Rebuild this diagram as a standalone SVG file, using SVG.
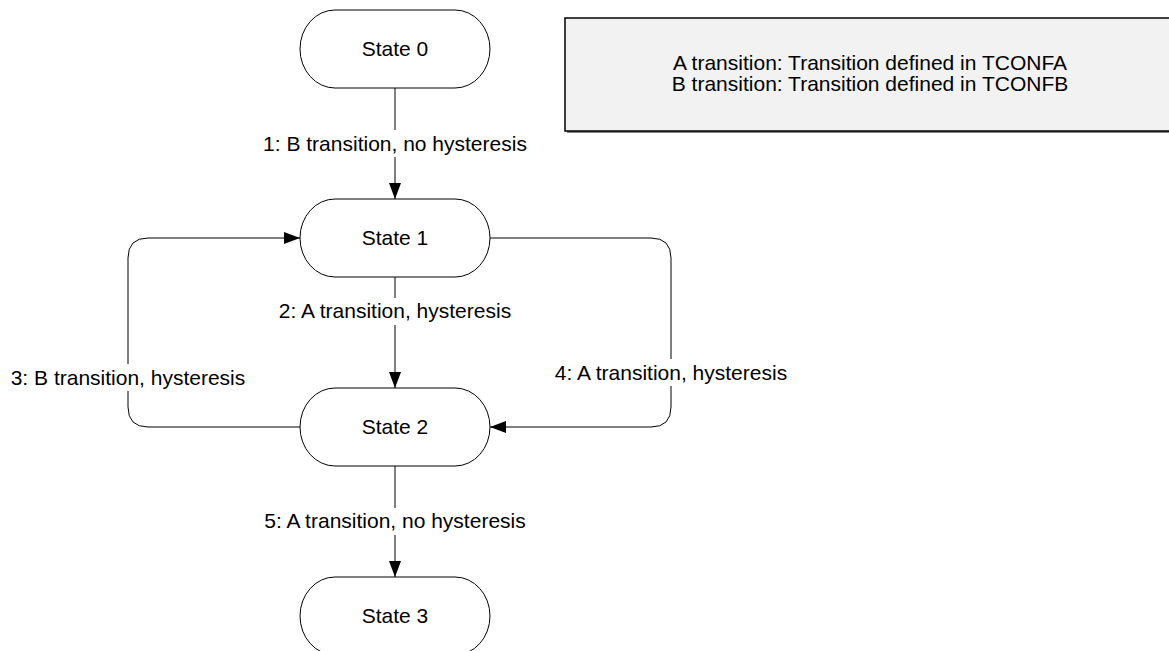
<svg xmlns="http://www.w3.org/2000/svg" width="1169" height="651" viewBox="0 0 1169 651">
<style>
.node{fill:#ffffff;stroke:#000000;stroke-width:1}
.t{font-family:"Liberation Sans",Arial,sans-serif;font-size:21px;fill:#000000;text-anchor:middle}
.edge{fill:none;stroke:#000000;stroke-width:1}
.lbg{fill:#ffffff;stroke:none}
</style>
<defs>
<marker id="arr" viewBox="0 0 16 12" refX="16" refY="6" markerWidth="16" markerHeight="12" markerUnits="userSpaceOnUse" orient="auto">
<path d="M0,0 L16,6 L0,12 Z" fill="#000000"/>
</marker>
</defs>
<rect width="1169" height="651" fill="#ffffff"/>
<g id="legend">
<rect x="567" y="20" width="610" height="113" fill="#808080"/>
<rect x="565" y="18" width="610" height="113" fill="#f2f2f2" stroke="#000000" stroke-width="1.5"/>
<text class="t" x="870" y="70">A transition: Transition defined in TCONFA</text>
<text class="t" x="870" y="91">B transition: Transition defined in TCONFB</text>
</g>
<g id="connectors">
<path class="edge" d="M395,88 L395,199" marker-end="url(#arr)"/>
<path class="edge" d="M395,277 L395,388" marker-end="url(#arr)"/>
<path class="edge" d="M395,466 L395,577" marker-end="url(#arr)"/>
<path class="edge" d="M300,427 L148,427 Q128,427 128,407 L128,258 Q128,238 148,238 L300,238" marker-end="url(#arr)"/>
<path class="edge" d="M490,238 L651,238 Q671,238 671,258 L671,407 Q671,427 651,427 L490,427" marker-end="url(#arr)"/>
<rect class="lbg" x="260" y="130" width="270" height="27"/>
<text class="t" x="395" y="150.5">1: B transition, no hysteresis</text>
<rect class="lbg" x="270" y="298" width="250" height="27"/>
<text class="t" x="395" y="318">2: A transition, hysteresis</text>
<rect class="lbg" x="8" y="364" width="240" height="27"/>
<text class="t" x="128" y="385">3: B transition, hysteresis</text>
<rect class="lbg" x="551" y="359" width="240" height="27"/>
<text class="t" x="671" y="380">4: A transition, hysteresis</text>
<rect class="lbg" x="260" y="508" width="270" height="27"/>
<text class="t" x="395" y="528">5: A transition, no hysteresis</text>
</g>
<g id="state0">
<rect class="node" x="300" y="10" width="190" height="78" rx="35" ry="39"/>
<text class="t" x="395" y="56">State 0</text>
</g>
<g id="state1">
<rect class="node" x="300" y="199" width="190" height="78" rx="35" ry="39"/>
<text class="t" x="395" y="245">State 1</text>
</g>
<g id="state2">
<rect class="node" x="300" y="388" width="190" height="78" rx="35" ry="39"/>
<text class="t" x="395" y="434">State 2</text>
</g>
<g id="state3">
<rect class="node" x="300" y="577" width="190" height="78" rx="35" ry="39"/>
<text class="t" x="395" y="623">State 3</text>
</g>
</svg>
